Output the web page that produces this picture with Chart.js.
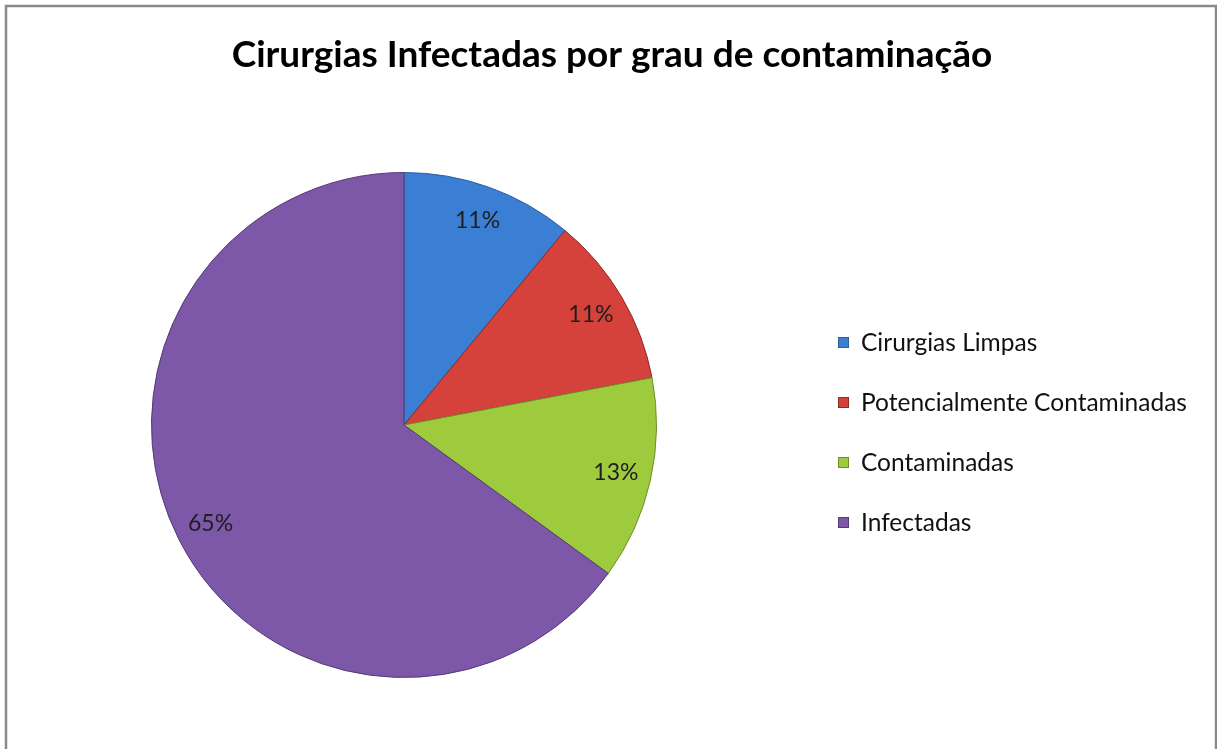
<!DOCTYPE html>
<html>
<head>
<meta charset="utf-8">
<script src="https://cdn.jsdelivr.net/npm/chart.js@4.4.1/dist/chart.umd.min.js"></script>
<style>
html,body{margin:0;padding:0;background:#fff;}
#wrap{position:absolute;left:0;top:0;width:1217px;height:749px;}
</style>
</head>
<body>
<div id="wrap"><canvas id="c" width="1217" height="749"></canvas></div>
<script>
const chartTitle = "Cirurgias Infectadas por grau de contaminação";
const categories = ["Cirurgias Limpas", "Potencialmente Contaminadas", "Contaminadas", "Infectadas"];
const values = [11, 11, 13, 65];
const percentLabels = ["11%", "11%", "13%", "65%"];
const sliceColors = ["#3b7fd4", "#d5413b", "#9dcb3d", "#7d57a8"];
const sliceBorders = ["#2d5f9e", "#8e2a27", "#6f8f2a", "#553a75"];

const decorPlugin = {
  id: 'decor',
  beforeDraw(chart) {
    const ctx = chart.ctx;
    ctx.save();
    ctx.fillStyle = '#fff';
    ctx.fillRect(0, 0, chart.width, chart.height);
    ctx.strokeStyle = '#8a8a8a';
    ctx.lineWidth = 2.5;
    ctx.beginPath();
    ctx.moveTo(6, 760);
    ctx.lineTo(6, 6);
    ctx.lineTo(1216, 6);
    ctx.lineTo(1216, 760);
    ctx.stroke();
    ctx.restore();
  },
  afterDraw(chart) {
    const ctx = chart.ctx;
    ctx.save();
    // title
    ctx.fillStyle = '#000';
    ctx.font = 'bold 37px Lato, "Open Sans", sans-serif';
    ctx.textAlign = 'center';
    ctx.textBaseline = 'middle';
    ctx.fillText(chartTitle, 612, 55);
    // data labels
    const meta = chart.getDatasetMeta(0);
    ctx.font = '23px Lato, "Open Sans", sans-serif';
    ctx.fillStyle = '#1e1e1e';
    meta.data.forEach((arc, i) => {
      const p = arc.getProps(['x', 'y', 'startAngle', 'endAngle', 'outerRadius'], true);
      const mid = (p.startAngle + p.endAngle) / 2;
      const r = p.outerRadius * 0.86;
      ctx.fillText(percentLabels[i], p.x + Math.cos(mid) * r, p.y + Math.sin(mid) * r);
    });
    // legend
    ctx.textAlign = 'left';
    ctx.font = '24.5px Lato, "Open Sans", sans-serif';
    categories.forEach((name, i) => {
      const y = 342 + i * 60;
      ctx.fillStyle = sliceColors[i];
      ctx.fillRect(838, y - 5, 11, 11);
      ctx.strokeStyle = sliceBorders[i];
      ctx.lineWidth = 1;
      ctx.strokeRect(838.5, y - 4.5, 10, 10);
      ctx.fillStyle = '#111';
      ctx.fillText(name, 861, y + 1);
    });
    ctx.restore();
  }
};

new Chart(document.getElementById('c'), {
  type: 'pie',
  data: {
    labels: categories,
    datasets: [{
      data: values,
      backgroundColor: sliceColors,
      borderColor: sliceBorders,
      borderWidth: 1
    }]
  },
  options: {
    responsive: false,
    animation: false,
    layout: { padding: { left: 151, right: 560, top: 172, bottom: 71 } },
    plugins: {
      legend: { display: false },
      title: { display: false },
      tooltip: { enabled: false }
    }
  },
  plugins: [decorPlugin]
});
</script>
</body>
</html>
